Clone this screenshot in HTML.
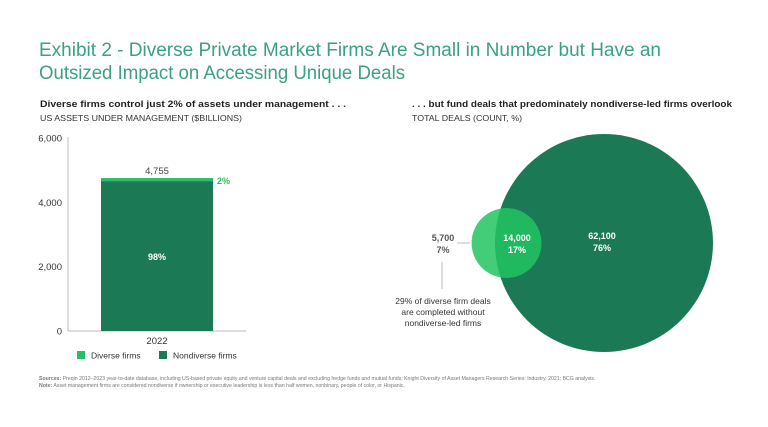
<!DOCTYPE html>
<html><head><meta charset="utf-8"><style>
body{margin:0;background:#fff;}
svg{display:block;font-family:"Liberation Sans",sans-serif;}
</style></head><body>
<svg width="768" height="427" viewBox="0 0 768 427">
<g fill="#3aa184" font-size="19">
<text x="39" y="56" textLength="622" lengthAdjust="spacingAndGlyphs">Exhibit 2 - Diverse Private Market Firms Are Small in Number but Have an</text>
<text x="39" y="79" textLength="366" lengthAdjust="spacingAndGlyphs">Outsized Impact on Accessing Unique Deals</text>
</g>
<text x="40" y="107" font-size="9.5" font-weight="bold" fill="#222" textLength="306" lengthAdjust="spacingAndGlyphs">Diverse firms control just 2% of assets under management . . .</text>
<text x="40" y="121" font-size="8.5" fill="#333" textLength="202" lengthAdjust="spacingAndGlyphs">US ASSETS UNDER MANAGEMENT ($BILLIONS)</text>
<text x="412" y="107" font-size="9.5" font-weight="bold" fill="#222" textLength="320" lengthAdjust="spacingAndGlyphs">. . . but fund deals that predominately nondiverse-led firms overlook</text>
<text x="412" y="121" font-size="8.5" fill="#333" textLength="110" lengthAdjust="spacingAndGlyphs">TOTAL DEALS (COUNT, %)</text>
<g id="bar"></g>
<g id="venn"></g>
<g font-size="8.5" fill="#333">
<rect x="77" y="351" width="8" height="8" fill="#2bbd63"/>
<text x="91" y="358.5">Diverse firms</text>
<rect x="159" y="351" width="8" height="8" fill="#1b7a55"/>
<text x="173" y="358.5">Nondiverse firms</text>
</g>
<g font-size="5.2" fill="#777">
<text x="39" y="380"><tspan font-weight="bold">Sources:</tspan> Preqin 2012–2023 year-to-date database, including US-based private equity and venture capital deals and excluding hedge funds and mutual funds; Knight Diversity of Asset Managers Research Series: Industry, 2021; BCG analysis.</text>
<text x="39" y="387"><tspan font-weight="bold">Note:</tspan> Asset management firms are considered nondiverse if ownership or executive leadership is less than half women, nonbinary, people of color, or Hispanic.</text>
</g>
</svg>
<script>
const categories=["2022"];
const diverseValues=[95];
const nondiverseValues=[4660];
const totals=[4755];
const yTicks=[0,2000,4000,6000];
const yTickLabels=["0","2,000","4,000","6,000"];
const vennCounts=[5700,14000,62100];
const vennPcts=["7%","17%","76%"];
const NS="http://www.w3.org/2000/svg";
function mk(p,t,a,txt){const e=document.createElementNS(NS,t);for(const k in a)e.setAttribute(k,a[k]);if(txt!==undefined)e.textContent=txt;p.appendChild(e);return e;}
const y0=331,yTop=138,yMax=6000;
function y(v){return y0-(v/yMax)*(y0-yTop);}
const bar=document.getElementById('bar');


let ax=mk(bar,'line',{x1:68,y1:137,x2:68,y2:y0,stroke:'#bbb','stroke-width':1});


let bx=mk(bar,'line',{x1:68,y1:y0,x2:246,y2:y0,stroke:'#bbb','stroke-width':1});


yTicks.forEach((t,i)=>{const e=mk(bar,'text',{x:62,y:y(t)+3.5,'text-anchor':'end','font-size':9.5,fill:'#333'},yTickLabels[i]);

});
categories.forEach((c,i)=>{
 const x=101,w=112;
 const nd=nondiverseValues[i],dv=diverseValues[i];
 const r1=mk(bar,'rect',{x:x,y:y(nd),width:w,height:y0-y(nd),fill:'#1b7a55'});
 
 
 const r2=mk(bar,'rect',{x:x,y:y(nd+dv),width:w,height:y(nd)-y(nd+dv),fill:'#2bbd63'});
 
 
 const tot=totals[i];
 const t1=mk(bar,'text',{x:x+w/2,y:y(nd+dv)-4,'text-anchor':'middle','font-size':9.5,fill:'#444'},tot.toLocaleString('en-US'));
 
 
 const t2=mk(bar,'text',{x:x+w+4,y:y(nd+dv)+6,'font-size':9,'font-weight':'bold',fill:'#2bbd63'},Math.round(dv/tot*100)+'%');
 
 
 const t3=mk(bar,'text',{x:x+w/2,y:(y(nd)+y0)/2+4,'text-anchor':'middle','font-size':9,'font-weight':'bold',fill:'#fff'},Math.round(nd/tot*100)+'%');
 
 
 const t4=mk(bar,'text',{x:x+w/2,y:y0+13,'text-anchor':'middle','font-size':9.5,fill:'#333'},c);
 
 
});
const venn=document.getElementById('venn');


const k=109/Math.sqrt(vennCounts[1]+vennCounts[2]);
const rBig=k*Math.sqrt(vennCounts[1]+vennCounts[2]);
const rSmall=k*Math.sqrt(vennCounts[0]+vennCounts[1])*0.63;
const cy=243,cxBig=604;
const sx=cxBig-rBig+rSmall*0.33;
const cb=mk(venn,'circle',{cx:cxBig,cy:cy,r:rBig,fill:'#1b7a55'});


const cs=mk(venn,'circle',{cx:sx,cy:cy,r:rSmall,fill:'#22c462','fill-opacity':0.85});


function lbl(x,yy,n,p,col,name){const t=mk(venn,'text',{x:x,y:yy,'text-anchor':'middle','font-size':9,'font-weight':'bold',fill:col});
 
 
 mk(t,'tspan',{x:x,dy:0},n.toLocaleString('en-US'));mk(t,'tspan',{x:x,dy:12},p);}
lbl(443,241,vennCounts[0],vennPcts[0],'#555','label-diverse-only');
lbl(517,241,vennCounts[1],vennPcts[1],'#fff','label-overlap');
lbl(602,239,vennCounts[2],vennPcts[2],'#fff','label-nondiverse-only');
const l1=mk(venn,'line',{x1:457,y1:243,x2:470,y2:243,stroke:'#bbb'});


const l2=mk(venn,'line',{x1:442,y1:262,x2:442,y2:289,stroke:'#bbb'});


const an=mk(venn,'text',{'text-anchor':'middle','font-size':8.5,fill:'#333'});


mk(an,'tspan',{x:443,y:304},'29% of diverse firm deals');
mk(an,'tspan',{x:443,y:315},'are completed without');
mk(an,'tspan',{x:443,y:326},'nondiverse-led firms');
</script>
</body></html>
